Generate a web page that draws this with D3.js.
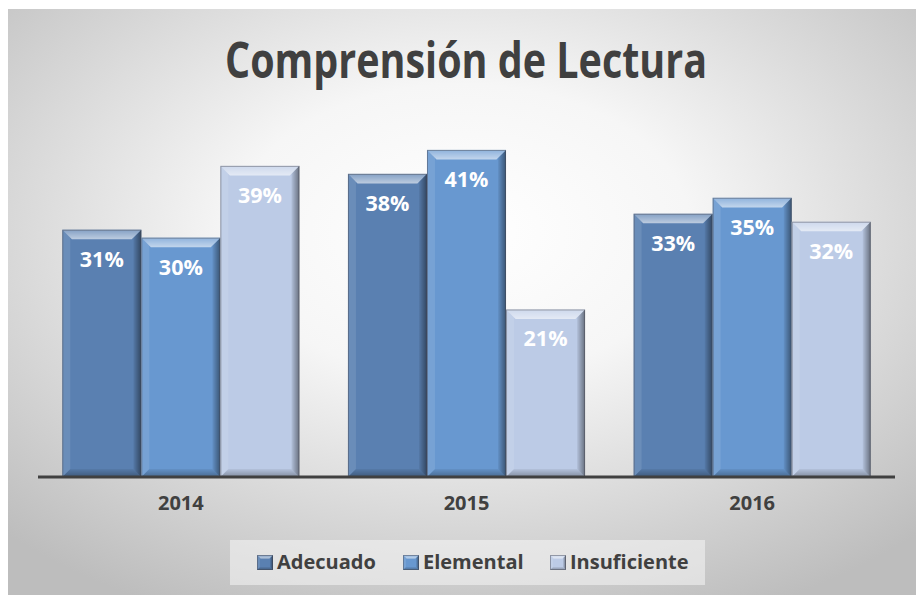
<!DOCTYPE html>
<html><head><meta charset="utf-8">
<script src="https://cdn.jsdelivr.net/npm/d3@7"></script>
<style>html,body{margin:0;padding:0;background:#fff;}svg{display:block;}</style>
</head><body>
<svg id="chart" width="916" height="595"></svg>
<script>
const years = ["2014", "2015", "2016"];
const series = ["Adecuado", "Elemental", "Insuficiente"];
const adecuado = [0.31, 0.38, 0.33];
const elemental = [0.30, 0.41, 0.35];
const insuficiente = [0.39, 0.21, 0.32];
const seriesColors = ["#5a80b1", "#6898d0", "#bccbe6"];
const titleText = "Comprensión de Lectura";

const values = [adecuado, elemental, insuficiente];
const svg = d3.select("#chart");
const defs = svg.append("defs");
const FONT = "'Open Sans', 'DejaVu Sans', sans-serif";
const TXT = "#404040";

// background
const bg = defs.append("radialGradient").attr("id", "bg").attr("cx", "0.5").attr("cy", "0.38").attr("r", "0.72");
bg.append("stop").attr("offset", "0").attr("stop-color", "#ffffff");
bg.append("stop").attr("offset", "0.35").attr("stop-color", "#f6f6f6");
bg.append("stop").attr("offset", "1").attr("stop-color", "#bdbdbd");
svg.append("rect").attr("x", 8).attr("y", 9).attr("width", 908).attr("height", 586).attr("fill", "url(#bg)");

// bevel gradients
const gTop = defs.append("linearGradient").attr("id", "gTop").attr("x1", 0).attr("y1", 0).attr("x2", 0).attr("y2", 1);
gTop.append("stop").attr("offset", 0).attr("stop-color", "#fff").attr("stop-opacity", 0.25);
gTop.append("stop").attr("offset", 1).attr("stop-color", "#fff").attr("stop-opacity", 0.6);
const gRight = defs.append("linearGradient").attr("id", "gRight").attr("x1", 0).attr("y1", 0).attr("x2", 1).attr("y2", 0);
gRight.append("stop").attr("offset", 0).attr("stop-color", "#000").attr("stop-opacity", 0.05);
gRight.append("stop").attr("offset", 1).attr("stop-color", "#000").attr("stop-opacity", 0.45);
const gBottom = defs.append("linearGradient").attr("id", "gBottom").attr("x1", 0).attr("y1", 0).attr("x2", 0).attr("y2", 1);
gBottom.append("stop").attr("offset", 0).attr("stop-color", "#000").attr("stop-opacity", 0.05);
gBottom.append("stop").attr("offset", 1).attr("stop-color", "#000").attr("stop-opacity", 0.3);

function bevelBox(g, x0, y0, x1, y1, b, color) {
  g.append("rect").attr("x", x0).attr("y", y0).attr("width", x1 - x0).attr("height", y1 - y0).attr("fill", color);
  const poly = (pts, fill) => g.append("polygon").attr("points", pts.map(p => p.join(",")).join(" ")).attr("fill", fill);
  poly([[x0, y0], [x0 + b, y0 + b], [x0 + b, y1 - b], [x0, y1]], "rgba(255,255,255,0.10)");
  poly([[x1, y0], [x1, y1], [x1 - b, y1 - b], [x1 - b, y0 + b]], "url(#gRight)");
  poly([[x0, y1], [x0 + b, y1 - b], [x1 - b, y1 - b], [x1, y1]], "url(#gBottom)");
  poly([[x0, y0], [x1, y0], [x1 - b * 1.2, y0 + b * 1.2], [x0 + b * 1.2, y0 + b * 1.2]], "url(#gTop)");
  g.append("rect").attr("x", x0 + 0.5).attr("y", y0 + 0.5).attr("width", x1 - x0 - 1).attr("height", y1 - y0 - 1)
    .attr("fill", "none").attr("stroke", "rgba(70,70,80,0.45)").attr("stroke-width", 1);
}

// scales
const x = d3.scaleBand().domain(years).range([38, 895]).paddingInner(0.17).paddingOuter(0.085);
const xs = d3.scaleBand().domain(series).range([0, x.bandwidth()]).padding(0);
const y = d3.scaleLinear().domain([0, 0.45]).range([477, 118]);
const color = d3.scaleOrdinal().domain(series).range(seriesColors);

// title
svg.append("text").attr("x", 466).attr("y", 78).attr("text-anchor", "middle")
  .attr("font-family", FONT).attr("font-weight", 700).attr("font-size", 50).attr("fill", TXT)
  .attr("textLength", 482).attr("lengthAdjust", "spacingAndGlyphs").text(titleText);

// bars
const barsG = svg.append("g");
years.forEach((yr, i) => {
  series.forEach((s, j) => {
    const v = values[j][i];
    const x0 = x(yr) + xs(s), x1 = x0 + xs.bandwidth();
    const g = barsG.append("g");
    bevelBox(g, x0, y(v), x1, y(0), 8, color(s));
    g.append("text").attr("x", (x0 + x1) / 2).attr("y", y(v) + 37).attr("text-anchor", "middle")
      .attr("font-family", FONT).attr("font-weight", 700).attr("font-size", 21.5).attr("fill", "#fff")
      .text(d3.format(".0%")(v));
  });
});

// axis
const axisG = svg.append("g").attr("transform", `translate(0,${y(0)})`)
  .call(d3.axisBottom(x).tickSize(0).tickPadding(22));
axisG.select(".domain").attr("stroke", "#404040").attr("stroke-width", 3).attr("d", "M38,0H895");
axisG.selectAll(".tick text").attr("font-family", FONT).attr("font-weight", 700).attr("font-size", 20)
  .attr("fill", TXT).attr("dy", "0.55em");

// legend
const leg = svg.append("g");
leg.append("rect").attr("x", 230).attr("y", 540).attr("width", 475).attr("height", 45).attr("fill", "rgba(245,245,245,0.55)");
const legX = [257, 403, 550];
series.forEach((s, j) => {
  const g = leg.append("g");
  bevelBox(g, legX[j], 555, legX[j] + 16, 570, 3, color(s));
  g.append("text").attr("x", legX[j] + 20).attr("y", 569).attr("font-family", FONT).attr("font-weight", 700)
    .attr("font-size", 20).attr("fill", TXT).text(s);
});
</script>
</body></html>
